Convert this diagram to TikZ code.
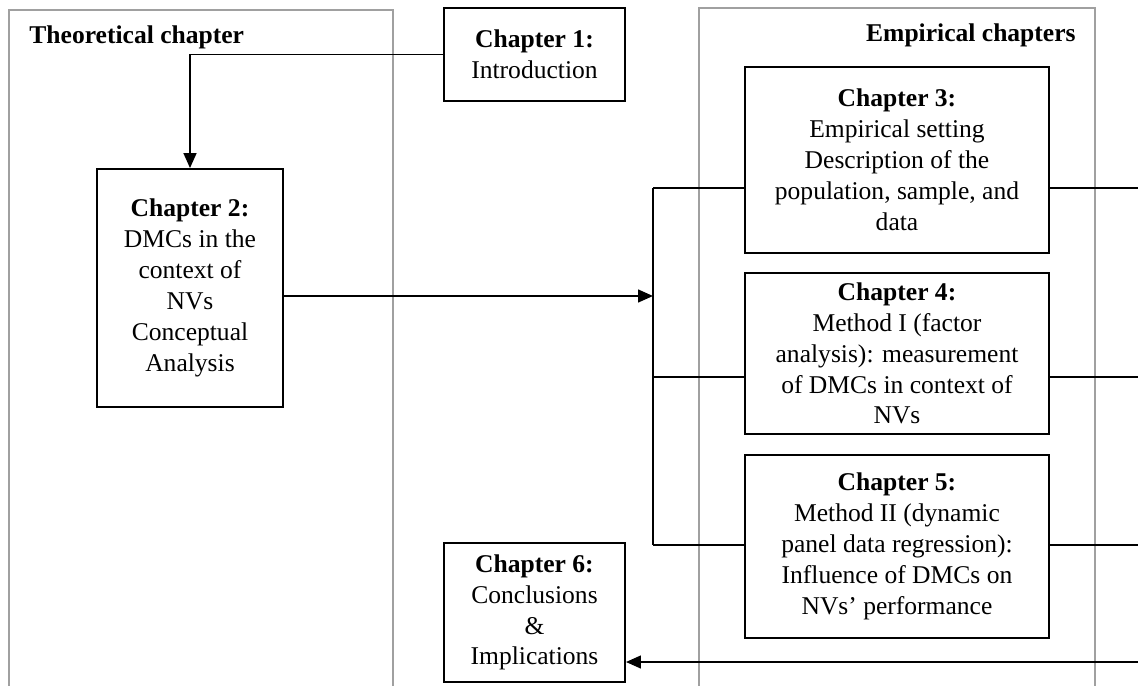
\documentclass[tikz,border=0pt]{standalone}
\usepackage{fontspec}
\setmainfont{Liberation Serif}
\usepackage{tikz}
\usetikzlibrary{arrows.meta, positioning, calc}
\definecolor{panelgray}{RGB}{160,160,160}
\definecolor{mydark}{RGB}{0,0,0}
\tikzset{
  chapbox/.style={rectangle, draw=mydark, fill=white, align=center,
    inner xsep=2pt, inner ysep=0.5pt, line width=0.9pt, font=\fontsize{12}{14.5}\selectfont},
  panel/.style={draw=panelgray, line width=0.9pt},
  paneltitle/.style={font=\fontsize{12}{14.7}\selectfont\bfseries, inner sep=0pt},
  arrow/.style={-{Triangle[length=7pt,width=6pt]}, line width=0.9pt, color=mydark},
  line/.style={line width=0.9pt, color=mydark}
}

\begin{document}
\begin{tikzpicture}[x=0.4695pt, y=-0.4695pt]
  \useasboundingbox (0,0) rectangle (1138,686);
  % Panels
  \draw[panel] (9,686) -- (9,10) -- (393,10) -- (393,686);
  \draw[panel] (699,686) -- (699,8) -- (1095,8) -- (1095,686);
  \node[paneltitle, anchor=base west] (thlabel) at (29,44) {Theoretical chapter};
  \node[paneltitle, anchor=base east] (emlabel) at (1076,42) {Empirical chapters};
  % Chapters
  \node[chapbox, minimum width=85pt, minimum height=43.7pt] (ch1) at (534.5,54.5)
    {\textbf{Chapter 1:}\\Introduction};
  \node[chapbox, minimum width=87.3pt, minimum height=111.7pt] (ch2) at (190,288)
    {\textbf{Chapter 2:}\\DMCs in the\\context of\\NVs\\Conceptual\\Analysis};
  \node[chapbox, minimum width=142.7pt, minimum height=87.3pt] (ch3) at (897,160)
    {\textbf{Chapter 3:}\\Empirical setting\\Description of the\\population, sample, and\\data};
  \node[chapbox, minimum width=142.7pt, minimum height=75.6pt] (ch4) at (897,353.5)
    {\textbf{Chapter 4:}\\Method I (factor\\analysis): measurement\\of DMCs in context of\\NVs};
  \node[chapbox, minimum width=142.7pt, minimum height=85.9pt] (ch5) at (897,546.5)
    {\textbf{Chapter 5:}\\Method II (dynamic\\panel data regression):\\Influence of DMCs on\\NVs’ performance};
  \node[chapbox, minimum width=85pt, minimum height=65.3pt] (ch6) at (534.5,612.5)
    {\textbf{Chapter 6:}\\Conclusions\\\&\\Implications};
  % Bus and free ends
  \coordinate (busin) at (653,296);
  \coordinate (bustop) at (653,188);
  \coordinate (busmid) at (653,377);
  \coordinate (busbot) at (653,545);
  \coordinate (out3) at (1138,188);
  \coordinate (out4) at (1138,377);
  \coordinate (out5) at (1138,545);
  \coordinate (back) at (1138,662);
  % Connectors
  \draw[arrow] (ch1.west) -| (ch2.north);
  \draw[arrow] (ch2.east |- busin) -- (busin);
  \draw[line] (bustop) -- (busbot);
  \draw[line] (bustop) -- (bustop -| ch3.west);
  \draw[line] (busmid) -- (busmid -| ch4.west);
  \draw[line] (busbot) -- (busbot -| ch5.west);
  \draw[line] (out3 -| ch3.east) -- (out3);
  \draw[line] (out4 -| ch4.east) -- (out4);
  \draw[line] (out5 -| ch5.east) -- (out5);
  \draw[arrow] (back) -- (back -| ch6.east);
\end{tikzpicture}
\end{document}
